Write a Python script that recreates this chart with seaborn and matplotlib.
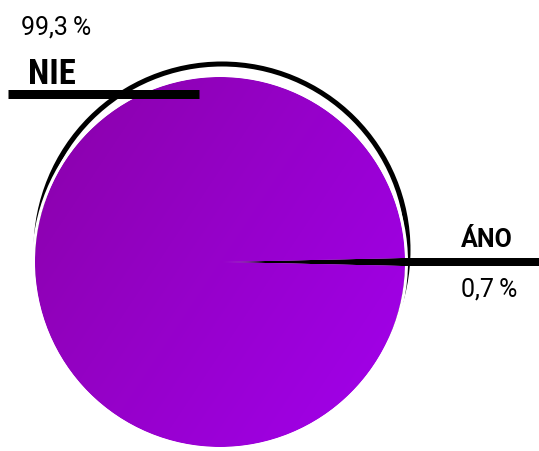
import numpy as np
import matplotlib
matplotlib.use("Agg")
import matplotlib.pyplot as plt
from matplotlib.patches import Circle
from matplotlib.colors import to_rgb
import seaborn as sns

# ---- data ----
labels = ["ÁNO", "NIE"]
values = [0.7, 99.3]
pct_labels = ["0,7\u2009%", "99,3\u2009%"]
colors = ["#000000", "#9600C8"]
grad_start = "#8A02A8"
grad_end = "#A300EE"

sns.set_theme(style="white")
plt.rcParams['font.family'] = ['Roboto', 'Liberation Sans', 'DejaVu Sans']
plt.rcParams['text.color'] = 'black'
condensed = ['Roboto Condensed', 'Roboto', 'DejaVu Sans']

W, H = 539, 451
fig = plt.figure(figsize=(W / 100, H / 100), dpi=100)
ax = fig.add_axes([0, 0, 1, 1])

cx, cy, r = 220, 262, 185

# shadow ring behind the pie
ax.add_patch(Circle((cx + 2, cy - 12), r + 1, fill=False, ec="black", lw=5 * 0.72, zorder=1))

start = -values[0] * 3.6 / 2
wedges, _ = ax.pie(values, colors=colors, startangle=start, center=(cx, cy),
                   radius=r, counterclock=True, frame=True,
                   wedgeprops=dict(linewidth=0))
for w in wedges:
    w.set_zorder(2)

# gradient fill for the big wedge
n = 300
xx, yy = np.meshgrid(np.linspace(0, 1, n), np.linspace(0, 1, n))
t = (xx * 0.6 + yy * 0.4)
c0, c1 = np.array(to_rgb(grad_start)), np.array(to_rgb(grad_end))
img = c0[None, None, :] * (1 - t[..., None]) + c1[None, None, :] * t[..., None]
im = ax.imshow(img, extent=(cx - r, cx + r, cy + r, cy - r), origin="upper",
               zorder=2.5, interpolation="bilinear")
im.set_clip_path(wedges[1])

# white rim
ax.add_patch(Circle((cx, cy), r + 1.5, fill=False, ec="white", lw=3 * 0.72, zorder=3))

# ÁNO leader continuing the small wedge
th = np.deg2rad(start + values[0] * 3.6 / 2)
ex, ey = cx + r * np.cos(th), cy + r * np.sin(th)
ax.plot([ex - 3, W], [ey, ey], color="black", lw=8 * 0.72, solid_capstyle="butt", zorder=4)
ax.text(461, 247, labels[0], fontsize=18, fontweight="bold",
        ha="left", va="baseline", zorder=5)
ax.text(461, 297, pct_labels[0], fontsize=18, ha="left", va="baseline", zorder=5)

# NIE leader
ax.plot([8, 199], [94, 94], color="black", lw=9 * 0.72, solid_capstyle="butt", zorder=4)
ax.text(28, 84, labels[1], fontsize=25, fontweight="bold", family=condensed,
        ha="left", va="baseline", zorder=5)
ax.text(21, 35, pct_labels[1], fontsize=18, ha="left", va="baseline", zorder=5)

ax.set_xlim(0, W)
ax.set_ylim(H, 0)
ax.set_aspect("equal")
ax.axis("off")
fig.savefig("out.png", dpi=100, facecolor="white")
